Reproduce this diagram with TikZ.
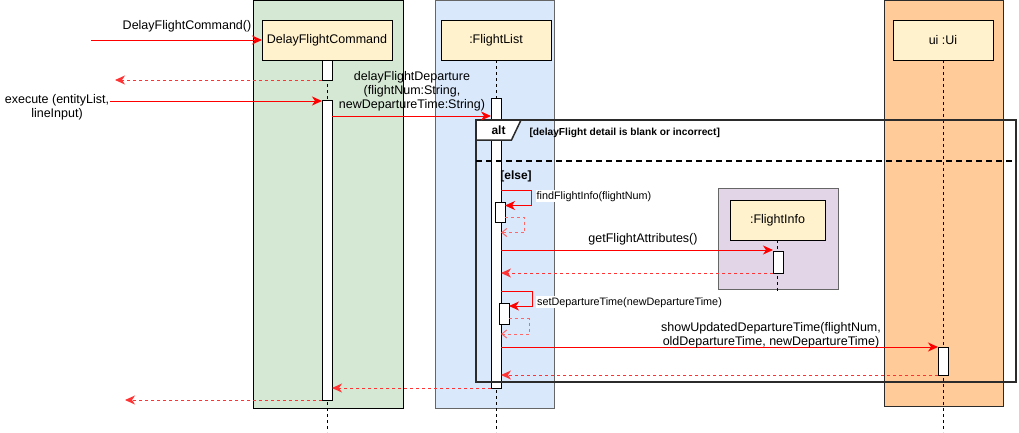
\documentclass[tikz,border=0pt]{standalone}
\usepackage{fontspec}
\setmainfont{Liberation Sans}
\usetikzlibrary{arrows.meta,calc}

\definecolor{cmdgreen}{HTML}{D5E8D4}
\definecolor{listblue}{HTML}{DAE8FC}
\definecolor{infopurple}{HTML}{E1D5E7}
\definecolor{uiorange}{HTML}{FFCC99}
\definecolor{objyellow}{HTML}{FFF2CC}
\definecolor{msgred}{HTML}{FF0000}
\definecolor{retred}{HTML}{FF3333}
\definecolor{selfred}{HTML}{FF6666}
\definecolor{framegray}{HTML}{666666}
\definecolor{altgray}{HTML}{2B2B2B}

\tikzset{
  lane/.style={rectangle, anchor=north west, inner sep=0pt, outer sep=0pt, line width=1pt},
  objbox/.style={rectangle, anchor=north west, draw=black, fill=objyellow, inner sep=0pt,
    outer sep=0pt, line width=1pt, minimum height=40pt, font=\fontsize{12.5}{14.5}\selectfont},
  actbar/.style={rectangle, anchor=north west, draw=black, fill=white, inner sep=0pt,
    outer sep=0pt, minimum width=10pt, line width=1pt},
  lifeline/.style={draw=black, line width=1pt, dash pattern=on 3pt off 3pt},
  callmsg/.style={draw=msgred, line width=1pt, -{Stealth[length=10pt,width=9pt,inset=3pt]}},
  retmsg/.style={draw=retred, line width=1pt, dash pattern=on 3pt off 3pt,
    -{Stealth[length=10pt,width=9pt,inset=3pt]}},
  selfret/.style={draw=selfred, line width=1pt, dash pattern=on 3pt off 3pt,
    -{Straight Barb[length=5pt,width=8pt]}},
  msglabel/.style={font=\fontsize{12.5}{14}\selectfont, inner sep=0pt, align=center},
  selflabel/.style={font=\fontsize{10.8}{13}\selectfont, fill=white, inner sep=1pt, anchor=base west},
  guardlabel/.style={font=\bfseries\fontsize{10.2}{12}\selectfont, inner sep=0pt, anchor=base west},
  framelabel/.style={font=\bfseries\fontsize{12}{14}\selectfont, inner sep=0pt, anchor=base},
}

\begin{document}
\begin{tikzpicture}[x=1pt,y=-1pt]
\useasboundingbox (0,0) rectangle (1019,432);

% swimlane backgrounds
\node[lane, fill=cmdgreen, draw=black, minimum width=150pt, minimum height=408pt] (laneCmd) at (253,0) {};
\node[lane, fill=listblue, draw=framegray, minimum width=119pt, minimum height=408pt] (laneList) at (435,0) {};
\node[lane, fill=infopurple, draw=framegray, minimum width=120pt, minimum height=101pt] (laneInfo) at (718,188) {};
\node[lane, fill=uiorange, draw=altgray, minimum width=119pt, minimum height=406pt] (laneUi) at (884,0) {};

% participants
\node[objbox, minimum width=130pt] (cmd) at (262,20) {DelayFlightCommand};
\node[objbox, minimum width=110pt] (list) at (441,20) {:FlightList};
\node[objbox, minimum width=95pt] (info) at (730,200) {:FlightInfo};
\node[objbox, minimum width=100pt] (ui) at (893,20) {ui :Ui};

% lifelines
\draw[lifeline] (cmd.south) -- (cmd.south |- 0,432);
\draw[lifeline] (list.south) -- (list.south |- 0,432);
\draw[lifeline] (info.south) -- (info.south |- 0,291);
\draw[lifeline] (ui.south) -- (ui.south |- 0,432);

% activation bars
\node[actbar, minimum height=20pt] (barA) at (322,60) {};
\node[actbar, minimum height=300pt] (barB) at (322,100) {};
\node[actbar, minimum height=290pt] (barL) at (491,98) {};
\node[actbar, minimum height=22pt] (barI) at (773,251) {};
\node[actbar, minimum height=28pt] (barU) at (938,347) {};

% combined fragment
\node[rectangle, anchor=north west, draw=altgray, line width=2pt, inner sep=0pt, outer sep=0pt,
  minimum width=540pt, minimum height=262pt] (altbox) at (476,120) {};
\draw[black, line width=2pt, dash pattern=on 6pt off 4pt] (altbox.west |- 0,161) -- (altbox.east |- 0,161);
\draw[altgray, line width=1.5pt, fill=white] (altbox.north west) -- ++(45,0) -- ++(-9.5,20) -- (altbox.west |- 0,140) -- cycle;
\node[framelabel] (altname) at (498.5,134.3) {alt};
\node[guardlabel] (guard1) at (529.3,135) {[delayFlight detail is blank or incorrect]};
\node[framelabel] (guard2) at (516,179.3) {[else]};

% nested activation bars
\node[actbar, minimum height=20pt] (barF1) at (495,202) {};
\node[actbar, minimum height=21pt] (barF2) at (499,303) {};

% messages
\coordinate (found) at (91,40);
\draw[callmsg] (found) -- (cmd.west);
\node[msglabel, anchor=base] (lblCtor) at (187,29.5) {DelayFlightCommand()};

\coordinate (ret1) at (115,80);
\draw[retmsg] (barA.south west) -- (ret1);

\coordinate (exec) at (110,101);
\draw[callmsg] (exec) -- (barB.west |- exec);
\node[msglabel, anchor=north] (lblExec) at (57,94.5) {execute (entityList,\\lineInput)};

\draw[callmsg] (barB.east |- 0,116) -- (barL.west |- 0,116);
\node[msglabel, anchor=north] (lblDelay) at (412,71) {delayFlightDeparture\\(flightNum:String,\\newDepartureTime:String)};

\draw[callmsg] (barL.east |- 0,190) -- ++(30,0) -- ++(0,15.5) -- (barF1.east |- 0,205.5);
\node[selflabel] (lblFind) at (535.5,199) {findFlightInfo(flightNum)};
\draw[selfret] (barF1.east |- 0,217) -- ++(19.5,0) -- ++(0,15.5) -- (barL.east |- 0,232.5);

\draw[callmsg] (barL.east |- 0,250) -- (barI.west |- 0,250);
\node[msglabel, anchor=base] (lblGet) at (643,242) {getFlightAttributes()};
\draw[retmsg] (barI.south west) -- (barL.east |- barI.south west);

\draw[callmsg] (barL.east |- 0,291) -- ++(31,0) -- ++(0,15) -- (barF2.east |- 0,306);
\node[selflabel] (lblSet) at (536,305) {setDepartureTime(newDepartureTime)};
\draw[selfret] (barF2.east |- 0,318.5) -- ++(20,0) -- ++(0,15.5) -- (barL.east |- 0,334);

\draw[callmsg] (barL.east |- 0,347) -- (barU.west |- 0,347);
\node[msglabel, anchor=north] (lblShow) at (771,322.3) {showUpdatedDepartureTime(flightNum,\\oldDepartureTime, newDepartureTime)};
\draw[retmsg] (barU.south west) -- (barL.east |- barU.south west);

\draw[retmsg] (barL.south west) -- (barB.east |- barL.south west);

\coordinate (ret2) at (125,400);
\draw[retmsg] (barB.south west) -- (ret2);
\end{tikzpicture}
\end{document}
